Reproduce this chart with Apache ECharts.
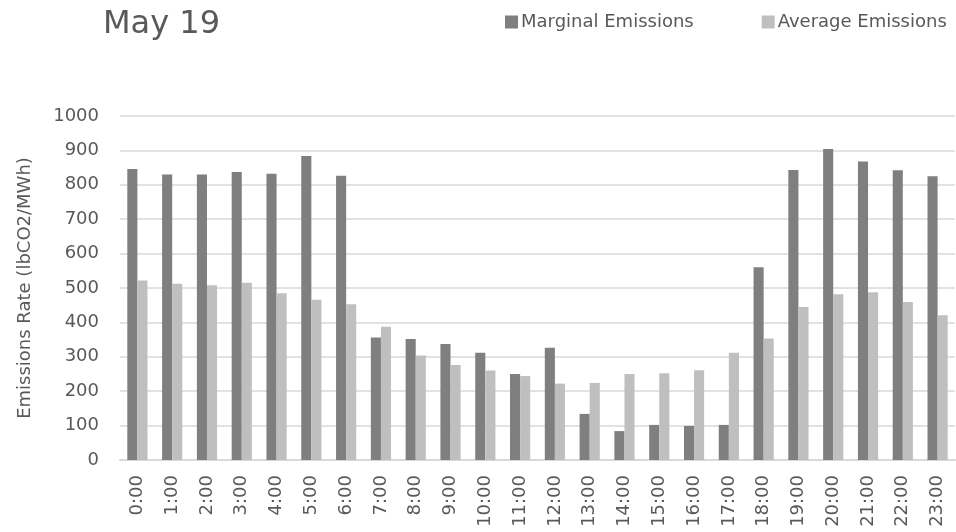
<!DOCTYPE html>
<html>
<head>
<meta charset="utf-8">
<title>May 19 Emissions</title>
<script src="https://cdn.jsdelivr.net/npm/echarts@6/dist/echarts.min.js"></script>
<style>
  html, body { margin: 0; padding: 0; background: #ffffff; }
  #chart { width: 956px; height: 532px; }
</style>
</head>
<body>
<div id="chart"></div>
<script>
// Hourly emission rates (lbCO2/MWh)
const hours = ['0:00','1:00','2:00','3:00','4:00','5:00','6:00','7:00','8:00','9:00','10:00','11:00',
               '12:00','13:00','14:00','15:00','16:00','17:00','18:00','19:00','20:00','21:00','22:00','23:00'];
const marginalEmissions = [846, 830, 830, 837, 832, 884, 826, 356, 352, 337, 312, 250,
                           326, 134, 84, 102, 99, 102, 560, 843, 904, 868, 842, 825];
const averageEmissions  = [522, 512, 508, 515, 485, 466, 453, 387, 304, 276, 260, 244,
                           222, 224, 250, 252, 261, 312, 353, 445, 482, 488, 459, 421];
const yTicks = { min: 0, max: 1000, interval: 100 };

const FONT = 'DejaVu Sans';
const TEXT = '#595959';

const chart = echarts.init(document.getElementById('chart'), null, { renderer: 'canvas' });
chart.setOption({
  animation: false,
  backgroundColor: '#ffffff',
  title: {
    text: 'May 19',
    left: 98,
    top: 4,
    textStyle: { fontFamily: FONT, fontSize: 32, fontWeight: 'normal', color: TEXT }
  },
  legend: {
    left: 500,
    top: 8,
    itemWidth: 13,
    itemHeight: 13,
    itemGap: 68,
    icon: 'rect',
    textStyle: { fontFamily: FONT, fontSize: 18, color: TEXT, padding: [0, 0, 0, -2] },
    data: ['Marginal Emissions', 'Average Emissions']
  },
  grid: { left: 120, right: 1, top: 116, bottom: 72, containLabel: false },
  xAxis: {
    type: 'category',
    data: hours,
    axisLine: { show: true, lineStyle: { color: '#d9d9d9', width: 2 } },
    axisTick: { show: false },
    axisLabel: {
      rotate: 90,
      margin: 15,
      interval: 0,
      fontFamily: FONT,
      fontSize: 18,
      color: TEXT
    }
  },
  yAxis: {
    type: 'value',
    min: yTicks.min,
    max: yTicks.max,
    interval: yTicks.interval,
    name: 'Emissions Rate (lbCO2/MWh)',
    nameLocation: 'middle',
    nameGap: 86,
    nameTextStyle: { fontFamily: FONT, fontSize: 18, color: TEXT },
    axisLine: { show: false },
    axisTick: { show: false },
    splitLine: { show: true, lineStyle: { color: '#d9d9d9', width: 1.5 } },
    axisLabel: {
      margin: 21,
      fontFamily: FONT,
      fontSize: 18,
      color: TEXT,
      formatter: (v) => String(v)
    }
  },
  series: [
    {
      name: 'Marginal Emissions',
      type: 'bar',
      data: marginalEmissions,
      barGap: '0%',
      barCategoryGap: '42%',
      itemStyle: { color: '#7f7f7f' }
    },
    {
      name: 'Average Emissions',
      type: 'bar',
      data: averageEmissions,
      barGap: '0%',
      barCategoryGap: '42%',
      itemStyle: { color: '#bfbfbf' }
    }
  ]
});
</script>
</body>
</html>
